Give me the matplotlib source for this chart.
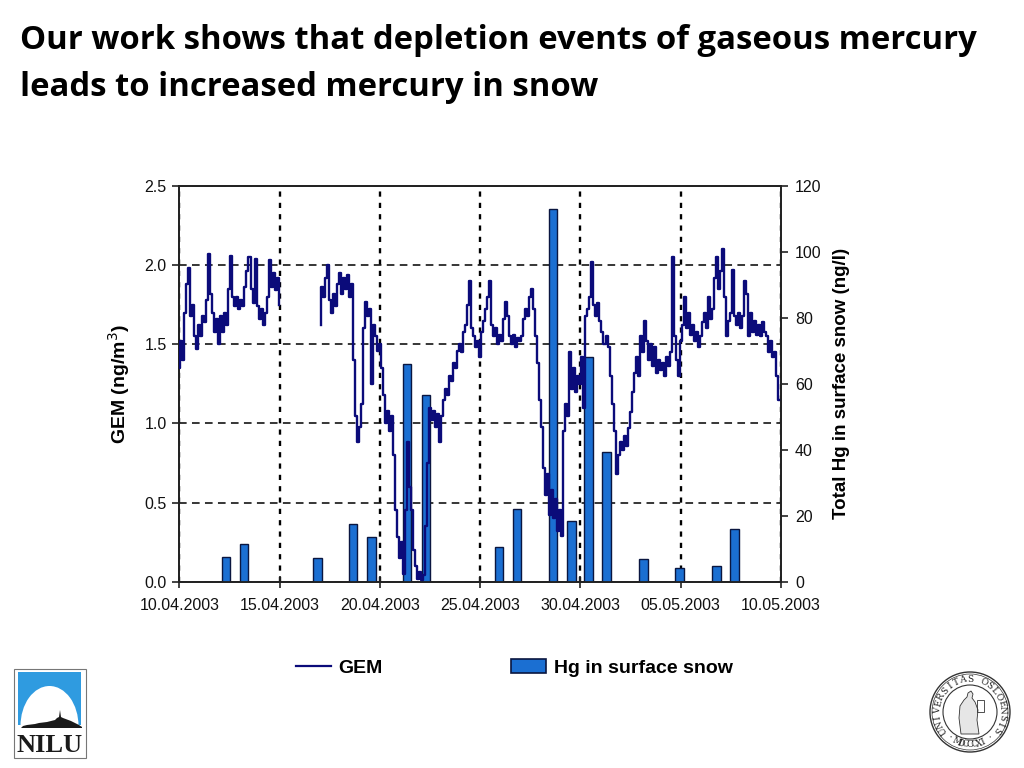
import matplotlib
matplotlib.use("Agg")
import matplotlib.pyplot as plt
import numpy as np
from matplotlib.lines import Line2D
from matplotlib.patches import Patch, Rectangle, Ellipse, Circle, Polygon

# ---------------------------------------------------------------------------
# Data. Time axis = days since 10.04.2003 00:00.
# ---------------------------------------------------------------------------
STEP = 0.1  # days between GEM readings

# GEM, first stretch (10.04 - 15.04)
GEM_A_START = 0.0
gem_a = [
    1.35, 1.52, 1.40, 1.70, 1.88, 1.98, 1.68, 1.75, 1.55, 1.47,
    1.62, 1.55, 1.68, 1.64, 1.78, 2.07, 1.82, 1.70, 1.58, 1.66,
    1.50, 1.68, 1.58, 1.70, 1.62, 1.85, 2.06, 1.80, 1.74, 1.80,
    1.72, 1.78, 1.74, 1.86, 1.96, 2.05, 1.85, 1.76, 2.04, 1.74,
    1.66, 1.72, 1.62, 1.70, 1.80, 2.03, 1.86, 1.95, 1.84, 1.92,
    1.75,
]

# GEM, second stretch (17.04 - 10.05)
GEM_B_START = 7.0
gem_b = [
    1.62, 1.86, 1.80, 1.92, 2.00, 1.78, 1.70, 1.82, 1.74, 1.88,
    1.95, 1.82, 1.92, 1.85, 1.94, 1.80, 1.88, 1.40, 1.05, 0.88,
    0.98, 1.12, 1.60, 1.77, 1.68, 1.72, 1.25, 1.62, 1.55, 1.46,
    1.50, 1.35, 1.18, 1.00, 1.08, 0.95, 1.05, 0.80, 0.45, 0.28,
    0.15, 0.25, 0.05, 0.45, 0.88, 0.60, 0.45, 0.20, 0.10, 0.02,
    0.06, 0.01, 0.04, 0.35, 0.75, 1.10, 1.02, 1.08, 0.98, 1.06,
    0.88, 1.05, 1.15, 1.22, 1.18, 1.30, 1.27, 1.38, 1.35, 1.46,
    1.50, 1.45, 1.58, 1.62, 1.75, 1.90, 1.60, 1.55, 1.48, 1.52,
    1.42, 1.58, 1.65, 1.72, 1.80, 1.90, 1.62, 1.55, 1.60, 1.50,
    1.56, 1.52, 1.66, 1.77, 1.68, 1.55, 1.50, 1.56, 1.48, 1.54,
    1.52, 1.55, 1.66, 1.72, 1.68, 1.80, 1.85, 1.72, 1.55, 1.38,
    1.15, 0.98, 0.72, 0.55, 0.68, 0.42, 0.58, 0.40, 0.52, 0.32,
    0.45, 0.29, 0.95, 1.12, 1.05, 1.45, 1.22, 1.35, 1.20, 1.30,
    1.25, 1.42, 1.10, 1.68, 1.72, 1.80, 2.02, 1.75, 1.68, 1.76,
    1.65, 1.58, 1.50, 1.55, 1.48, 1.30, 1.12, 0.95, 0.68, 0.80,
    0.88, 0.83, 0.92, 0.86, 0.97, 1.07, 1.20, 1.32, 1.42, 1.30,
    1.55, 1.45, 1.65, 1.52, 1.40, 1.50, 1.36, 1.48, 1.32, 1.40,
    1.34, 1.38, 1.30, 1.42, 1.36, 1.45, 2.05, 1.55, 1.40, 1.30,
    1.52, 1.62, 1.80, 1.60, 1.70, 1.56, 1.62, 1.52, 1.58, 1.48,
    1.55, 1.64, 1.70, 1.60, 1.80, 1.66, 1.72, 1.92, 2.05, 1.85,
    1.96, 2.10, 1.80, 1.55, 1.65, 1.70, 1.97, 1.68, 1.62, 1.70,
    1.60, 1.68, 1.90, 1.82, 1.55, 1.70, 1.58, 1.65, 1.56, 1.62,
    1.55, 1.64, 1.58, 1.55, 1.45, 1.52, 1.42, 1.45, 1.30, 1.15,
]

# Total Hg in surface snow (ng/l), sampling days
bar_days = [2.34, 3.22, 6.88, 8.67, 9.59, 11.36, 12.29, 15.93, 16.83,
            18.62, 19.55, 20.41, 21.30, 23.15, 24.93, 26.78, 27.69]
bar_vals = [7.5, 11.5, 7.1, 17.4, 13.7, 66.0, 56.7, 10.6, 22.0,
            113.0, 18.3, 68.0, 39.3, 6.9, 4.1, 4.7, 16.1]

x_ticks = [0, 5, 10, 15, 20, 25, 30]
x_labels = ["10.04.2003", "15.04.2003", "20.04.2003", "25.04.2003",
            "30.04.2003", "05.05.2003", "10.05.2003"]
gem_ticks = [0.0, 0.5, 1.0, 1.5, 2.0, 2.5]
hg_ticks = [0, 20, 40, 60, 80, 100, 120]

TITLE_1 = "Our work shows that depletion events of gaseous mercury"
TITLE_2 = "leads to increased mercury in snow"

LINE_C = "#0b0b7a"
BAR_C = "#1b6fd2"
BAR_EDGE = "#0a1640"
TXT_FONT = ["Liberation Sans", "DejaVu Sans"]

# GEM series with a gap between the two stretches
t_a = GEM_A_START + STEP * np.arange(len(gem_a))
t_b = GEM_B_START + STEP * np.arange(len(gem_b))
gem_t = np.concatenate([t_a, [np.nan], t_b])
gem_v = np.concatenate([gem_a, [np.nan], gem_b])

# ---------------------------------------------------------------------------
# Figure
# ---------------------------------------------------------------------------
fig = plt.figure(figsize=(10.24, 7.68), dpi=100, facecolor="white")

fig.text(20 / 1024, 1 - 49 / 768, TITLE_1, fontsize=23.7, fontweight="bold",
         family=["Open Sans", "DejaVu Sans"], va="baseline", ha="left")
fig.text(20 / 1024, 1 - 96 / 768, TITLE_2, fontsize=23.7, fontweight="bold",
         family=["Open Sans", "DejaVu Sans"], va="baseline", ha="left")

pos = [179.3 / 1024, 1 - 581.7 / 768, 601.7 / 1024, 395.7 / 768]
ax = fig.add_axes(pos)          # left axis, grid, frame
ax2 = ax.twinx()                # snow bars
ax_line = fig.add_axes(pos, sharex=ax, sharey=ax)  # GEM line on top

ax.set_xlim(0, 30)
ax.set_ylim(0, 2.5)
ax2.set_ylim(0, 120)

ax.set_xticks(x_ticks)
ax.set_xticklabels(x_labels)
ax.set_yticks(gem_ticks)
ax.set_yticklabels([f"{v:.1f}" for v in gem_ticks])
ax2.set_yticks(hg_ticks)

ax.yaxis.grid(True, color="black", linestyle=(0, (5, 3.5)), lw=1.1)
ax.xaxis.grid(True, color="black", linestyle=(0, (2.2, 2.6)), lw=1.7)
ax.set_axisbelow(True)

for a in (ax, ax2):
    for s in a.spines.values():
        s.set_color("#222222")
        s.set_linewidth(1.3)
ax.tick_params(axis="y", direction="out", length=5, width=1.2, pad=4,
               labelsize=11.5, colors="#222222")
ax.tick_params(axis="x", direction="inout", length=8, width=1.2, pad=8,
               labelsize=11.5, colors="#222222")
ax2.tick_params(axis="y", direction="out", length=5, width=1.2, pad=5,
                labelsize=11.5, colors="#222222")
for lab in ax.get_xticklabels() + ax.get_yticklabels() + ax2.get_yticklabels():
    lab.set_family(TXT_FONT)
    lab.set_color("#111111")

ax2.bar(bar_days, bar_vals, width=0.42, color=BAR_C, edgecolor=BAR_EDGE,
        linewidth=1.0, zorder=2)

ax_line.plot(gem_t, gem_v, color=LINE_C, lw=1.7, drawstyle="steps-mid")
ax_line.set_axis_off()
ax_line.patch.set_visible(False)
ax_line.set_zorder(5)

ax.set_ylabel("GEM (ng/m$^3$)", fontsize=14, fontweight="bold",
              family=TXT_FONT, labelpad=9)
ax2.set_ylabel("Total Hg in surface snow (ng/l)", fontsize=13.5,
               fontweight="bold", family=TXT_FONT, labelpad=8)

handles = [Line2D([0], [0], color=LINE_C, lw=1.6),
           Patch(facecolor=BAR_C, edgecolor=BAR_EDGE, linewidth=1.2)]
fig.legend(handles, ["GEM", "Hg in surface snow"], loc="center",
           bbox_to_anchor=(0.502, 1 - 668 / 768), ncol=2, frameon=False,
           prop={"family": TXT_FONT, "weight": "bold", "size": 14},
           columnspacing=6.6, handlelength=1.8, handletextpad=0.4)

# ---------------------------------------------------------------------------
# NILU logo (bottom left)
# ---------------------------------------------------------------------------
lg = fig.add_axes([13 / 1024, 1 - 758 / 768, 73 / 1024, 90 / 768])
lg.set_xlim(0, 73)
lg.set_ylim(0, 90)
lg.set_axis_off()
lg.add_patch(Rectangle((0.5, 0.5), 72, 89, facecolor="white",
                       edgecolor="#777777", lw=0.8, clip_on=False))
lg.add_patch(Rectangle((5, 32), 63, 54, facecolor="#2f9be0", edgecolor="none"))
lg.add_patch(Ellipse((36.5, 32), 58, 80, facecolor="white", edgecolor="none"))
lg.add_patch(Rectangle((5, 26), 63, 7, facecolor="white", edgecolor="none"))
skyline = [(8, 30), (10, 32), (14, 33), (18, 33.5), (22, 34), (26, 35),
           (30, 35.5), (34, 36), (38, 37), (42, 38), (44, 40), (46, 41),
           (47, 48), (48, 41), (50, 40), (54, 38.5), (58, 37), (62, 35),
           (66, 33), (69, 31), (69, 30)]
lg.add_patch(Polygon(skyline, closed=True, facecolor="#1a1a1a",
                     edgecolor="none"))
lg.text(36.5, 13, "NILU", ha="center", va="center", fontsize=19,
        fontweight="bold", family=["Liberation Serif", "DejaVu Serif"],
        color="#1a1a1a")

# ---------------------------------------------------------------------------
# University of Oslo seal (bottom right)
# ---------------------------------------------------------------------------
sl = fig.add_axes([925 / 1024, 1 - 757 / 768, 90 / 1024, 90 / 768])
sl.set_xlim(-45, 45)
sl.set_ylim(-45, 45)
sl.set_aspect("equal")
sl.set_axis_off()
sl.add_patch(Circle((0, 0), 40, facecolor="white", edgecolor="#333333", lw=1.0))
sl.add_patch(Circle((0, 0), 38, facecolor="none", edgecolor="#333333", lw=0.5))
sl.add_patch(Circle((0, 0), 27, facecolor="none", edgecolor="#333333", lw=0.8))
top_txt = "UNIVERSITAS OSLOENSIS"
angs = np.linspace(214, -34, len(top_txt))
for ch, a in zip(top_txt, angs):
    r = np.deg2rad(a)
    sl.text(32.5 * np.cos(r), 32.5 * np.sin(r), ch, rotation=a - 90,
            rotation_mode="anchor", ha="center", va="center", fontsize=6.5,
            family="DejaVu Serif", color="#222222")
bot_txt = "\u00b7 MDCCCXI \u00b7"
angs = np.linspace(230, 310, len(bot_txt))
for ch, a in zip(bot_txt, angs):
    r = np.deg2rad(a)
    sl.text(32.5 * np.cos(r), 32.5 * np.sin(r), ch, rotation=a + 90,
            rotation_mode="anchor", ha="center", va="center", fontsize=6.5,
            family="DejaVu Serif", color="#222222")
# simple robed figure with a lyre in the centre
robe = [(-9, -22), (-11, -6), (-10, 6), (-6, 12), (-3, 15), (-2, 19),
        (1, 21), (3, 18), (2, 14), (5, 10), (8, 2), (7, -8), (9, -22)]
sl.add_patch(Polygon(robe, closed=True, facecolor="#e6e6e6",
                     edgecolor="#333333", lw=0.6))
sl.add_patch(Rectangle((7, 0), 7, 12, facecolor="none", edgecolor="#333333",
                       lw=0.6))

fig.savefig("out.png", dpi=100, facecolor="white")
